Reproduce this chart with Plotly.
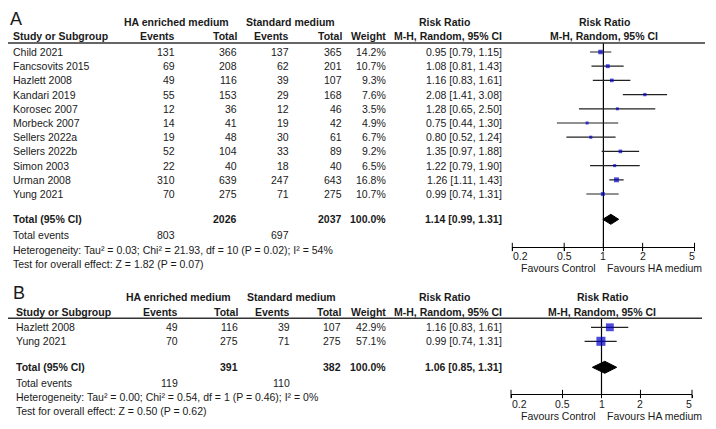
"""HA enriched medium vs standard medium forest plots (Plotly)."""

import numpy as np
import plotly.graph_objects as go

W, H = 716, 429
OFF = 8  # the page body margin pushes the figure 8px right and down
FW, FH = W - OFF, H - OFF

# ---- Panel A data
studies_a = ["Child 2021", "Fancsovits 2015", "Hazlett 2008", "Kandari 2019", "Korosec 2007",
             "Morbeck 2007", "Sellers 2022a", "Sellers 2022b", "Simon 2003", "Urman 2008", "Yung 2021"]
ha_events_a = [131, 69, 49, 55, 12, 14, 19, 52, 22, 310, 70]
ha_total_a = [366, 208, 116, 153, 36, 41, 48, 104, 40, 639, 275]
std_events_a = [137, 62, 39, 29, 12, 19, 30, 33, 18, 247, 71]
std_total_a = [365, 201, 107, 168, 46, 42, 61, 89, 40, 643, 275]
weight_a = [14.2, 10.7, 9.3, 7.6, 3.5, 4.9, 6.7, 9.2, 6.5, 16.8, 10.7]
rr_a = [0.95, 1.08, 1.16, 2.08, 1.28, 0.75, 0.80, 1.35, 1.22, 1.26, 0.99]
lo_a = [0.79, 0.81, 0.83, 1.41, 0.65, 0.44, 0.52, 0.97, 0.79, 1.11, 0.74]
hi_a = [1.15, 1.43, 1.61, 3.08, 2.50, 1.30, 1.24, 1.88, 1.90, 1.43, 1.31]
pooled_a = [1.14, 0.99, 1.31]
het_a = "Heterogeneity: Tau² = 0.03; Chi² = 21.93, df = 10 (P = 0.02); I² = 54%"
test_a = "Test for overall effect: Z = 1.82 (P = 0.07)"

# ---- Panel B data
studies_b = ["Hazlett 2008", "Yung 2021"]
ha_events_b = [49, 70]
ha_total_b = [116, 275]
std_events_b = [39, 71]
std_total_b = [107, 275]
weight_b = [42.9, 57.1]
rr_b = [1.16, 0.99]
lo_b = [0.83, 0.74]
hi_b = [1.61, 1.31]
pooled_b = [1.06, 0.85, 1.31]
het_b = "Heterogeneity: Tau² = 0.00; Chi² = 0.54, df = 1 (P = 0.46); I² = 0%"
test_b = "Test for overall effect: Z = 0.50 (P = 0.62)"

tick_vals = [0.2, 0.5, 1, 2, 5]
tick_text = ["0.2", "0.5", "1", "2", "5"]

FONT = "Liberation Sans, Arial, sans-serif"
FS = 10.5
TXT = "#1a1a1a"
BLUE = "#0000C8"

# window pixel geometry of each panel
geom_a = dict(label_y=8, h1=22, h2=36, rule=43, rule_x=(4, 705), row0=52, pitch=14.2,
              total=219.3, tev=235.3, het=250, test=264, axis=247, tick_y=256, fav_y=268,
              x0=512.3, x1=694.5, name_x=12, cols=[176, 238, 290, 343, 387, 503],
              c_ha=176, c_std=290, c_rr=445, c_plot=604, dia_h=5)
geom_b = dict(label_y=282, h1=297, h2=311.7, rule=318.3, rule_x=(8, 702), row0=327.3, pitch=14,
              total=367.3, tev=382.7, het=397.3, test=411.3, axis=394, tick_y=404, fav_y=415.5,
              x0=511, x1=692, name_x=15, cols=[179, 239, 291, 342, 387, 503],
              c_ha=178, c_std=291, c_rr=445, c_plot=602, dia_h=6)

fig = go.Figure()
annotations = []
shapes = []


def px(p):
    return max(0.0, (p - OFF) / FW)


def py(p):
    return min(1.0, 1 - (p - OFF) / FH)


def txt(x, y, text, anchor="left", bold=False, size=FS, yanchor="middle"):
    annotations.append(dict(
        x=px(x), y=py(y), xref="paper", yref="paper", text=f"<b>{text}</b>" if bold else text,
        showarrow=False, xanchor=anchor, yanchor=yanchor, borderpad=0,
        font=dict(family=FONT, size=size, color=TXT)))


def add_panel(n, label, studies, ha_ev, ha_tot, st_ev, st_tot, weights, rr, lo, hi,
              pooled, het, test, g):
    xa, ya = ("x", "y") if n == 1 else (f"x{n}", f"y{n}")
    xname, yname = ("xaxis", "yaxis") if n == 1 else (f"xaxis{n}", f"yaxis{n}")

    def row(p):
        return (p - g["row0"]) / g["pitch"]

    fig.update_layout({
        xname: dict(type="log", domain=[px(g["x0"]), px(g["x1"])],
                    range=[np.log10(0.2), np.log10(5)], anchor=ya,
                    showline=True, linecolor="black", linewidth=1,
                    ticks="outside", ticklen=3, tickcolor="black", tickwidth=1,
                    tickvals=tick_vals, showticklabels=False,
                    showgrid=False, zeroline=False, fixedrange=True),
        yname: dict(domain=[py(g["axis"]), py(g["rule"])],
                    range=[row(g["axis"]), row(g["rule"])], visible=False,
                    anchor=xa, fixedrange=True),
    })

    rows = list(range(len(studies)))

    # line of no effect
    fig.add_trace(go.Scatter(x=[1, 1], y=[row(g["rule"]), row(g["axis"])], mode="lines",
                             line=dict(color="black", width=1.2), xaxis=xa, yaxis=ya,
                             hoverinfo="skip", showlegend=False, cliponaxis=False))
    # study estimates
    fig.add_trace(go.Scatter(
        x=rr, y=rows, mode="markers", xaxis=xa, yaxis=ya, showlegend=False, cliponaxis=False,
        marker=dict(symbol="square", color=BLUE, size=[max(3, 1.2 * np.sqrt(w)) for w in weights],
                    line=dict(width=0)),
        error_x=dict(type="data", symmetric=False,
                     array=[h - r for r, h in zip(rr, hi)],
                     arrayminus=[r - l for r, l in zip(rr, lo)],
                     width=0, thickness=1.2, color="#222222"),
        hovertext=studies, hoverinfo="text+x"))
    # pooled diamond
    est, plo, phi = pooled
    yt = row(g["total"])
    dh = g["dia_h"] / g["pitch"]
    fig.add_trace(go.Scatter(x=[plo, est, phi, est, plo], y=[yt, yt - dh, yt, yt + dh, yt],
                             mode="lines", fill="toself", fillcolor="black",
                             line=dict(color="black", width=1), xaxis=xa, yaxis=ya,
                             showlegend=False, hoverinfo="skip"))
    # tick marks crossing the axis
    fig.add_trace(go.Scatter(x=tick_vals, y=[row(g["axis"])] * len(tick_vals), mode="markers",
                             marker=dict(symbol="line-ns", size=6, line=dict(width=1, color="black")),
                             xaxis=xa, yaxis=ya, showlegend=False, hoverinfo="skip",
                             cliponaxis=False))
    shifts = [8, 0, 0, 0, -3]
    for v, t, s in zip(tick_vals, tick_text, shifts):
        annotations.append(dict(x=np.log10(v), y=py(g["tick_y"]), xref=xa, yref="paper", text=t,
                                showarrow=False, xanchor="center", yanchor="middle", xshift=s,
                                font=dict(family=FONT, size=FS, color=TXT)))
    txt(597, g["fav_y"], "Favours Control", anchor="right")
    txt(606, g["fav_y"], "Favours HA medium", anchor="left")

    # panel letter and headers
    txt(g["name_x"] - 3, g["label_y"], label, size=18, yanchor="top")
    txt(g["c_ha"], g["h1"], "HA enriched medium", anchor="center", bold=True)
    txt(g["c_std"], g["h1"], "Standard medium", anchor="center", bold=True)
    txt(g["c_rr"], g["h1"], "Risk Ratio", anchor="center", bold=True)
    txt(g["c_plot"], g["h1"], "Risk Ratio", anchor="center", bold=True)
    txt(g["name_x"], g["h2"], "Study or Subgroup", bold=True)
    for x, t in zip(g["cols"], ["Events", "Total", "Events", "Total", "Weight",
                                "M-H, Random, 95% CI"]):
        txt(x, g["h2"], t, anchor="right", bold=True)
    txt(g["c_plot"], g["h2"], "M-H, Random, 95% CI", anchor="center", bold=True)
    shapes.append(dict(type="line", xref="paper", yref="paper", x0=px(g["rule_x"][0]),
                       x1=px(g["rule_x"][1]), y0=py(g["rule"]), y1=py(g["rule"]),
                       line=dict(color="#333333", width=1.5)))

    # study rows
    for i, name in enumerate(studies):
        yv = g["row0"] + i * g["pitch"]
        txt(g["name_x"], yv, name)
        vals = [str(ha_ev[i]), str(ha_tot[i]), str(st_ev[i]), str(st_tot[i]),
                f"{weights[i]:.1f}%", f"{rr[i]:.2f} [{lo[i]:.2f}, {hi[i]:.2f}]"]
        for x, t in zip(g["cols"], vals):
            txt(x, yv, t, anchor="right")

    # totals
    yv = g["total"]
    txt(g["name_x"], yv, "Total (95% CI)", bold=True)
    txt(g["cols"][1], yv, str(sum(ha_tot)), anchor="right", bold=True)
    txt(g["cols"][3], yv, str(sum(st_tot)), anchor="right", bold=True)
    txt(g["cols"][4], yv, "100.0%", anchor="right", bold=True)
    txt(g["cols"][5], yv, f"{est:.2f} [{plo:.2f}, {phi:.2f}]", anchor="right", bold=True)
    yv = g["tev"]
    txt(g["name_x"], yv, "Total events")
    txt(g["cols"][0], yv, str(sum(ha_ev)), anchor="right")
    txt(g["cols"][2], yv, str(sum(st_ev)), anchor="right")
    txt(g["name_x"], g["het"], het)
    txt(g["name_x"], g["test"], test)


add_panel(1, "A", studies_a, ha_events_a, ha_total_a, std_events_a, std_total_a, weight_a,
          rr_a, lo_a, hi_a, pooled_a, het_a, test_a, geom_a)
add_panel(2, "B", studies_b, ha_events_b, ha_total_b, std_events_b, std_total_b, weight_b,
          rr_b, lo_b, hi_b, pooled_b, het_b, test_b, geom_b)

fig.update_layout(
    width=FW, height=FH, autosize=False,
    margin=dict(l=0, r=0, t=0, b=0, pad=0),
    paper_bgcolor="white", plot_bgcolor="white",
    showlegend=False,
    annotations=annotations,
    shapes=shapes,
)

fig.write_html("out.html")
